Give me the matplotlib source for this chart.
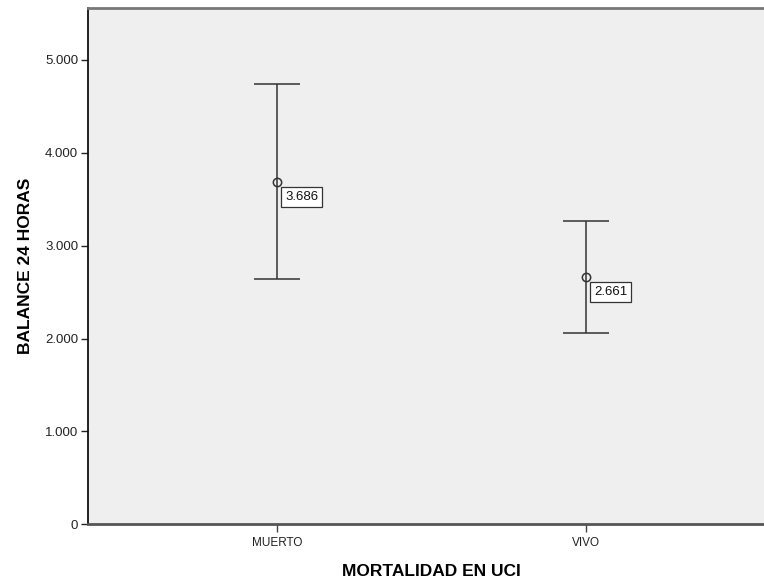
import matplotlib
matplotlib.use("Agg")
import matplotlib.pyplot as plt
from matplotlib.ticker import FuncFormatter

plt.rcParams['font.family'] = ['Liberation Sans', 'DejaVu Sans']

categories = ["MUERTO", "VIVO"]
means = [3686, 2661]
lower = [2637, 2062]
upper = [4740, 3265]
mean_labels = ["3.686", "2.661"]
yticks = [0, 1000, 2000, 3000, 4000, 5000]

fig = plt.figure(figsize=(7.64, 5.84), dpi=100)
ax = fig.add_axes([88/764, 59.7/584, 687/764, 516.3/584])
ax.set_facecolor("#efefef")

xs = list(range(len(categories)))
err_lo = [m - l for m, l in zip(means, lower)]
err_hi = [u - m for m, u in zip(means, upper)]
ax.errorbar(xs, means, yerr=[err_lo, err_hi], fmt='none', ecolor="#333333",
            elinewidth=1.1, capsize=16.8, capthick=1.1, zorder=3)
ax.plot(xs, means, 'o', markersize=6, markerfacecolor='none',
        markeredgecolor="#333333", markeredgewidth=1.1, zorder=4)

for x, m, lab in zip(xs, means, mean_labels):
    ax.annotate(lab, xy=(x, m), xytext=(6, -6.5), textcoords='offset points',
                ha='left', va='top', fontsize=9.5, color="#111111",
                bbox=dict(boxstyle='square,pad=0.3', fc='white', ec='#333333', lw=0.9),
                zorder=5)

ax.set_xlim(-0.611, 1.613)
ax.set_ylim(0, 5558)
ax.set_xticks(xs)
ax.set_xticklabels(categories, fontsize=8.5)
ax.set_yticks(yticks)
ax.yaxis.set_major_formatter(FuncFormatter(lambda v, p: "0" if v == 0 else f"{int(v):,}".replace(",", ".")))
ax.tick_params(axis='y', labelsize=9.5, length=5, width=1, color="#222222", pad=2, labelcolor="#222222")
ax.tick_params(axis='x', length=6, width=1, color="#444444", pad=3, labelcolor="#222222")

ax.spines['left'].set_color("#111111")
ax.spines['left'].set_linewidth(1.3)
ax.spines['bottom'].set_color("#555555")
ax.spines['bottom'].set_linewidth(2)
ax.spines['top'].set_color("#777777")
ax.spines['top'].set_linewidth(2)
ax.spines['right'].set_visible(False)

ax.set_xlabel("MORTALIDAD EN UCI", fontsize=12.5, fontweight='bold', labelpad=11)
ax.set_ylabel("BALANCE 24 HORAS", fontsize=12.5, fontweight='bold', labelpad=9)

fig.savefig("out.png", dpi=100)
